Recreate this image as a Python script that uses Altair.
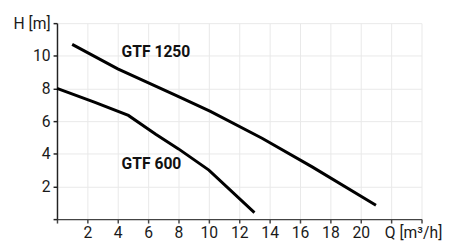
import altair as alt
import pandas as pd

# GTF 1250 curve
q1250 = [1.0, 4.0, 7.9, 10.1, 13.5, 16.8, 21.0]
h1250 = [10.7, 9.2, 7.55, 6.6, 4.95, 3.2, 0.85]
# GTF 600 curve
q600 = [0.0, 2.5, 4.7, 6.5, 8.0, 10.0, 13.0]
h600 = [8.0, 7.15, 6.35, 5.2, 4.3, 3.0, 0.4]

labels = ["GTF 1250", "GTF 600"]
label_q = [4.25, 4.25]
label_h = [10.2, 3.35]

x_ticks = list(range(0, 25, 2))
y_ticks = list(range(0, 13, 2))

df = pd.DataFrame(
    {"q": q1250 + q600, "h": h1250 + h600,
     "model": ["GTF 1250"] * len(q1250) + ["GTF 600"] * len(q600)}
)
dl = pd.DataFrame({"q": label_q, "h": label_h, "t": labels})

FONT = "Roboto"

xs = alt.Scale(domain=[0, 24], nice=False, zero=False)
ys = alt.Scale(domain=[0, 12], nice=False, zero=False)

xaxis = alt.Axis(values=x_ticks, tickCount=13, title="Q [m³/h]", titleX=334, titleY=6,
                 titleAlign="left", titleBaseline="top", titleFont=FONT,
                 titleFontSize=16, titleFontWeight="normal", titleColor="#1a1a1a",
                 labelExpr="datum.value == 0 || datum.value >= 22 ? '' : datum.label",
                 labelOverlap=False, labelFlush=False,
                 labelFont=FONT, labelFontSize=16, labelColor="#1a1a1a",
                 labelPadding=2, tickSize=4, tickColor="#444", domainColor="#444",
                 domainWidth=1.5, tickWidth=1.5, gridColor="#e8e8e8", gridWidth=1)
yaxis = alt.Axis(values=y_ticks, tickCount=7, title=None,
                 labelExpr="datum.value == 0 ? '' : datum.value == 12 ? 'H [m]' : datum.label",
                 labelOverlap=False, labelFlush=False,
                 labelFont=FONT, labelFontSize=16, labelColor="#1a1a1a",
                 labelPadding=3, tickSize=4, tickColor="#222", domainColor="#222",
                 domainWidth=1.5, tickWidth=1.5, gridColor="#e8e8e8", gridWidth=1)

lines = alt.Chart(df).mark_line(color="black", strokeWidth=3).encode(
    x=alt.X("q:Q", scale=xs, axis=xaxis),
    y=alt.Y("h:Q", scale=ys, axis=yaxis),
    detail="model:N",
)

texts = alt.Chart(dl).mark_text(font=FONT, fontSize=16, fontWeight="bold", align="left",
                                baseline="middle", color="#111").encode(
    x=alt.X("q:Q", scale=xs, axis=xaxis), y=alt.Y("h:Q", scale=ys, axis=yaxis), text="t:N")

chart = alt.layer(lines, texts).properties(width=372, height=200).configure_view(stroke=None)

chart.save("out.html", embed_options={"renderer": "svg", "actions": False})
